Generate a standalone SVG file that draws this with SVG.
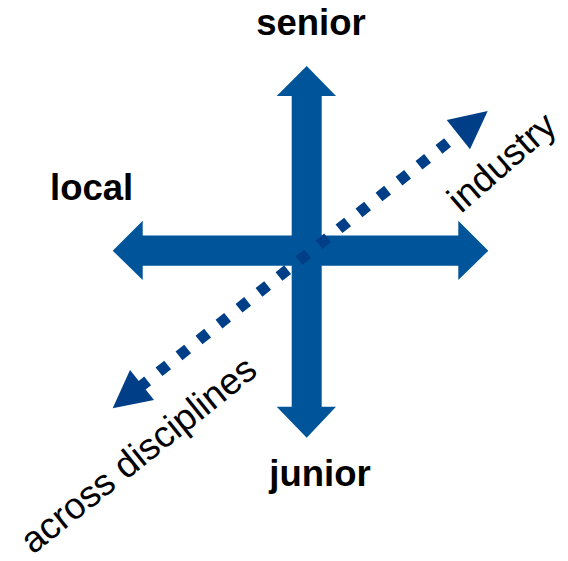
<svg xmlns="http://www.w3.org/2000/svg" width="568" height="561" viewBox="0 0 568 561">
<style>
.axis{fill:#00559A;}
.dots{fill:none;stroke:#003F87;stroke-width:11;stroke-dasharray:11 14.54;stroke-dashoffset:0.75;stroke-linecap:butt;}
.head{fill:#003F87;}
.lbl{font-family:"Liberation Sans",Arial,sans-serif;font-weight:bold;font-size:36.5px;fill:#000;}
.dlbl{font-family:"Liberation Sans",Arial,sans-serif;font-size:37px;fill:#000;}
</style>
<rect width="568" height="561" fill="#fff"/>
<g id="connectors">
<polygon class="axis" points="112.7,250.7 142.7,220.7 142.7,235.5 458.3,235.5 458.3,220.7 488.3,250.7 458.3,280 458.3,265.7 142.7,265.7 142.7,280"/>
<polygon class="axis" points="306.7,66 336,96 321.7,96 321.7,406.7 336,406.7 306.7,437.7 276.7,406.7 291.7,406.7 291.7,96 276.7,96"/>
<path class="dots" d="M467,127.1 L139.6,387.2"/>
<polygon class="head" points="487.7,111 446.7,120 470,149.3"/>
<polygon class="head" points="112.7,408.3 130,370 154,400"/>
</g>
<g id="senior"><text class="lbl" x="311" y="35" text-anchor="middle">senior</text></g>
<g id="local"><text class="lbl" x="50" y="200">local</text></g>
<g id="junior"><text class="lbl" x="320" y="486" text-anchor="middle">junior</text></g>
<g id="industry"><text class="dlbl" transform="translate(461,214) rotate(-41)">industry</text></g>
<g id="across"><text class="dlbl" transform="translate(33,555) rotate(-38.7)">across disciplines</text></g>
</svg>
